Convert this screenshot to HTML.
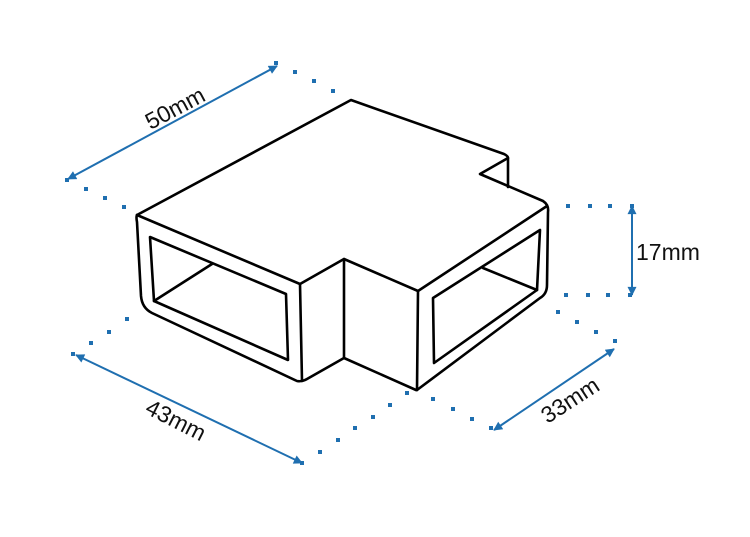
<!DOCTYPE html>
<html><head><meta charset="utf-8"><style>
html,body{margin:0;padding:0;background:#fff;}
svg{display:block;}
text{font-family:"Liberation Sans",sans-serif;font-size:23px;fill:#111;}
</style></head><body>
<svg width="750" height="537" viewBox="0 0 750 537" xmlns="http://www.w3.org/2000/svg">
<defs>
<marker id="a" viewBox="0 0 10 10" refX="9" refY="5" markerWidth="13" markerHeight="9" orient="auto-start-reverse" markerUnits="userSpaceOnUse"><path d="M0,0 L10,5 L0,10 Z" fill="#1f6fb0"/></marker>
</defs>
<g fill="none" stroke="#000" stroke-width="2.6" stroke-linejoin="round" stroke-linecap="round">
<path d="M137,215 L351,100 L504,154 Q508,156 508,158 L480,174 L543,201 Q549,205 548,212 L547,285 Q547,294 540,298 L417,390"/>
<path d="M508,158 L508,187"/>
<path d="M137,215 Q136,217 137,222 L141,296 Q142,308 152,313 L297,381 Q302,382 307,379 L344,358 L416,390"/>
<path d="M137,215 L300,284 L344,259 L418,291 L547,206"/>
<path d="M300,284 L302,381"/>
<path d="M344,259 L344,358"/>
<path d="M418,291 L417,390"/>
<path d="M150,237 L286,294 L288,360 L154,301 Z"/>
<path d="M154,301 L212,264"/>
<path d="M433,298 L540,230 L537,290 L434,363 Z"/>
<path d="M483,268 L537,290"/>
</g>
<g stroke="#1f6fb0" stroke-width="2" fill="none">
<line x1="68" y1="179" x2="277" y2="66" marker-start="url(#a)" marker-end="url(#a)"/>
<line x1="76" y1="355" x2="302" y2="463" marker-start="url(#a)" marker-end="url(#a)"/>
<line x1="494" y1="430" x2="614" y2="349" marker-start="url(#a)" marker-end="url(#a)"/>
<line x1="632" y1="206" x2="632" y2="295" marker-start="url(#a)" marker-end="url(#a)"/>
</g>
<g fill="#1f6fb0">
<rect x="274" y="61" width="4" height="4"/><rect x="293" y="70" width="4" height="4"/><rect x="312" y="79" width="4" height="4"/><rect x="331" y="89" width="4" height="4"/>
<rect x="65" y="178" width="4" height="4"/><rect x="84" y="187" width="4" height="4"/><rect x="103" y="196" width="4" height="4"/><rect x="122" y="205" width="4" height="4"/>
<rect x="71" y="352" width="4" height="4"/><rect x="89" y="341" width="4" height="4"/><rect x="107" y="330" width="4" height="4"/><rect x="125" y="317" width="4" height="4"/>
<rect x="300" y="461" width="4" height="4"/><rect x="318" y="450" width="4" height="4"/><rect x="336" y="438" width="4" height="4"/><rect x="353" y="426" width="4" height="4"/><rect x="371" y="415" width="4" height="4"/><rect x="388" y="403" width="4" height="4"/><rect x="405" y="391" width="4" height="4"/>
<rect x="431" y="397" width="4" height="4"/><rect x="451" y="407" width="4" height="4"/><rect x="470" y="417" width="4" height="4"/><rect x="489" y="426" width="4" height="4"/>
<rect x="556" y="310" width="4" height="4"/><rect x="575" y="320" width="4" height="4"/><rect x="594" y="330" width="4" height="4"/><rect x="613" y="339" width="4" height="4"/>
<rect x="566" y="204" width="4" height="4"/><rect x="588" y="204" width="4" height="4"/><rect x="608" y="204" width="4" height="4"/><rect x="630" y="204" width="4" height="4"/>
<rect x="564" y="293" width="4" height="4"/><rect x="586" y="293" width="4" height="4"/><rect x="606" y="293" width="4" height="4"/><rect x="628" y="293" width="4" height="4"/>
</g>
<text x="175" y="116" text-anchor="middle" transform="rotate(-28 175 108)">50mm</text>
<text x="176" y="428" text-anchor="middle" transform="rotate(27 176 420)">43mm</text>
<text x="570" y="408" text-anchor="middle" transform="rotate(-33 570 400)">33mm</text>
<text x="636" y="260">17mm</text>
</svg>
</body></html>
